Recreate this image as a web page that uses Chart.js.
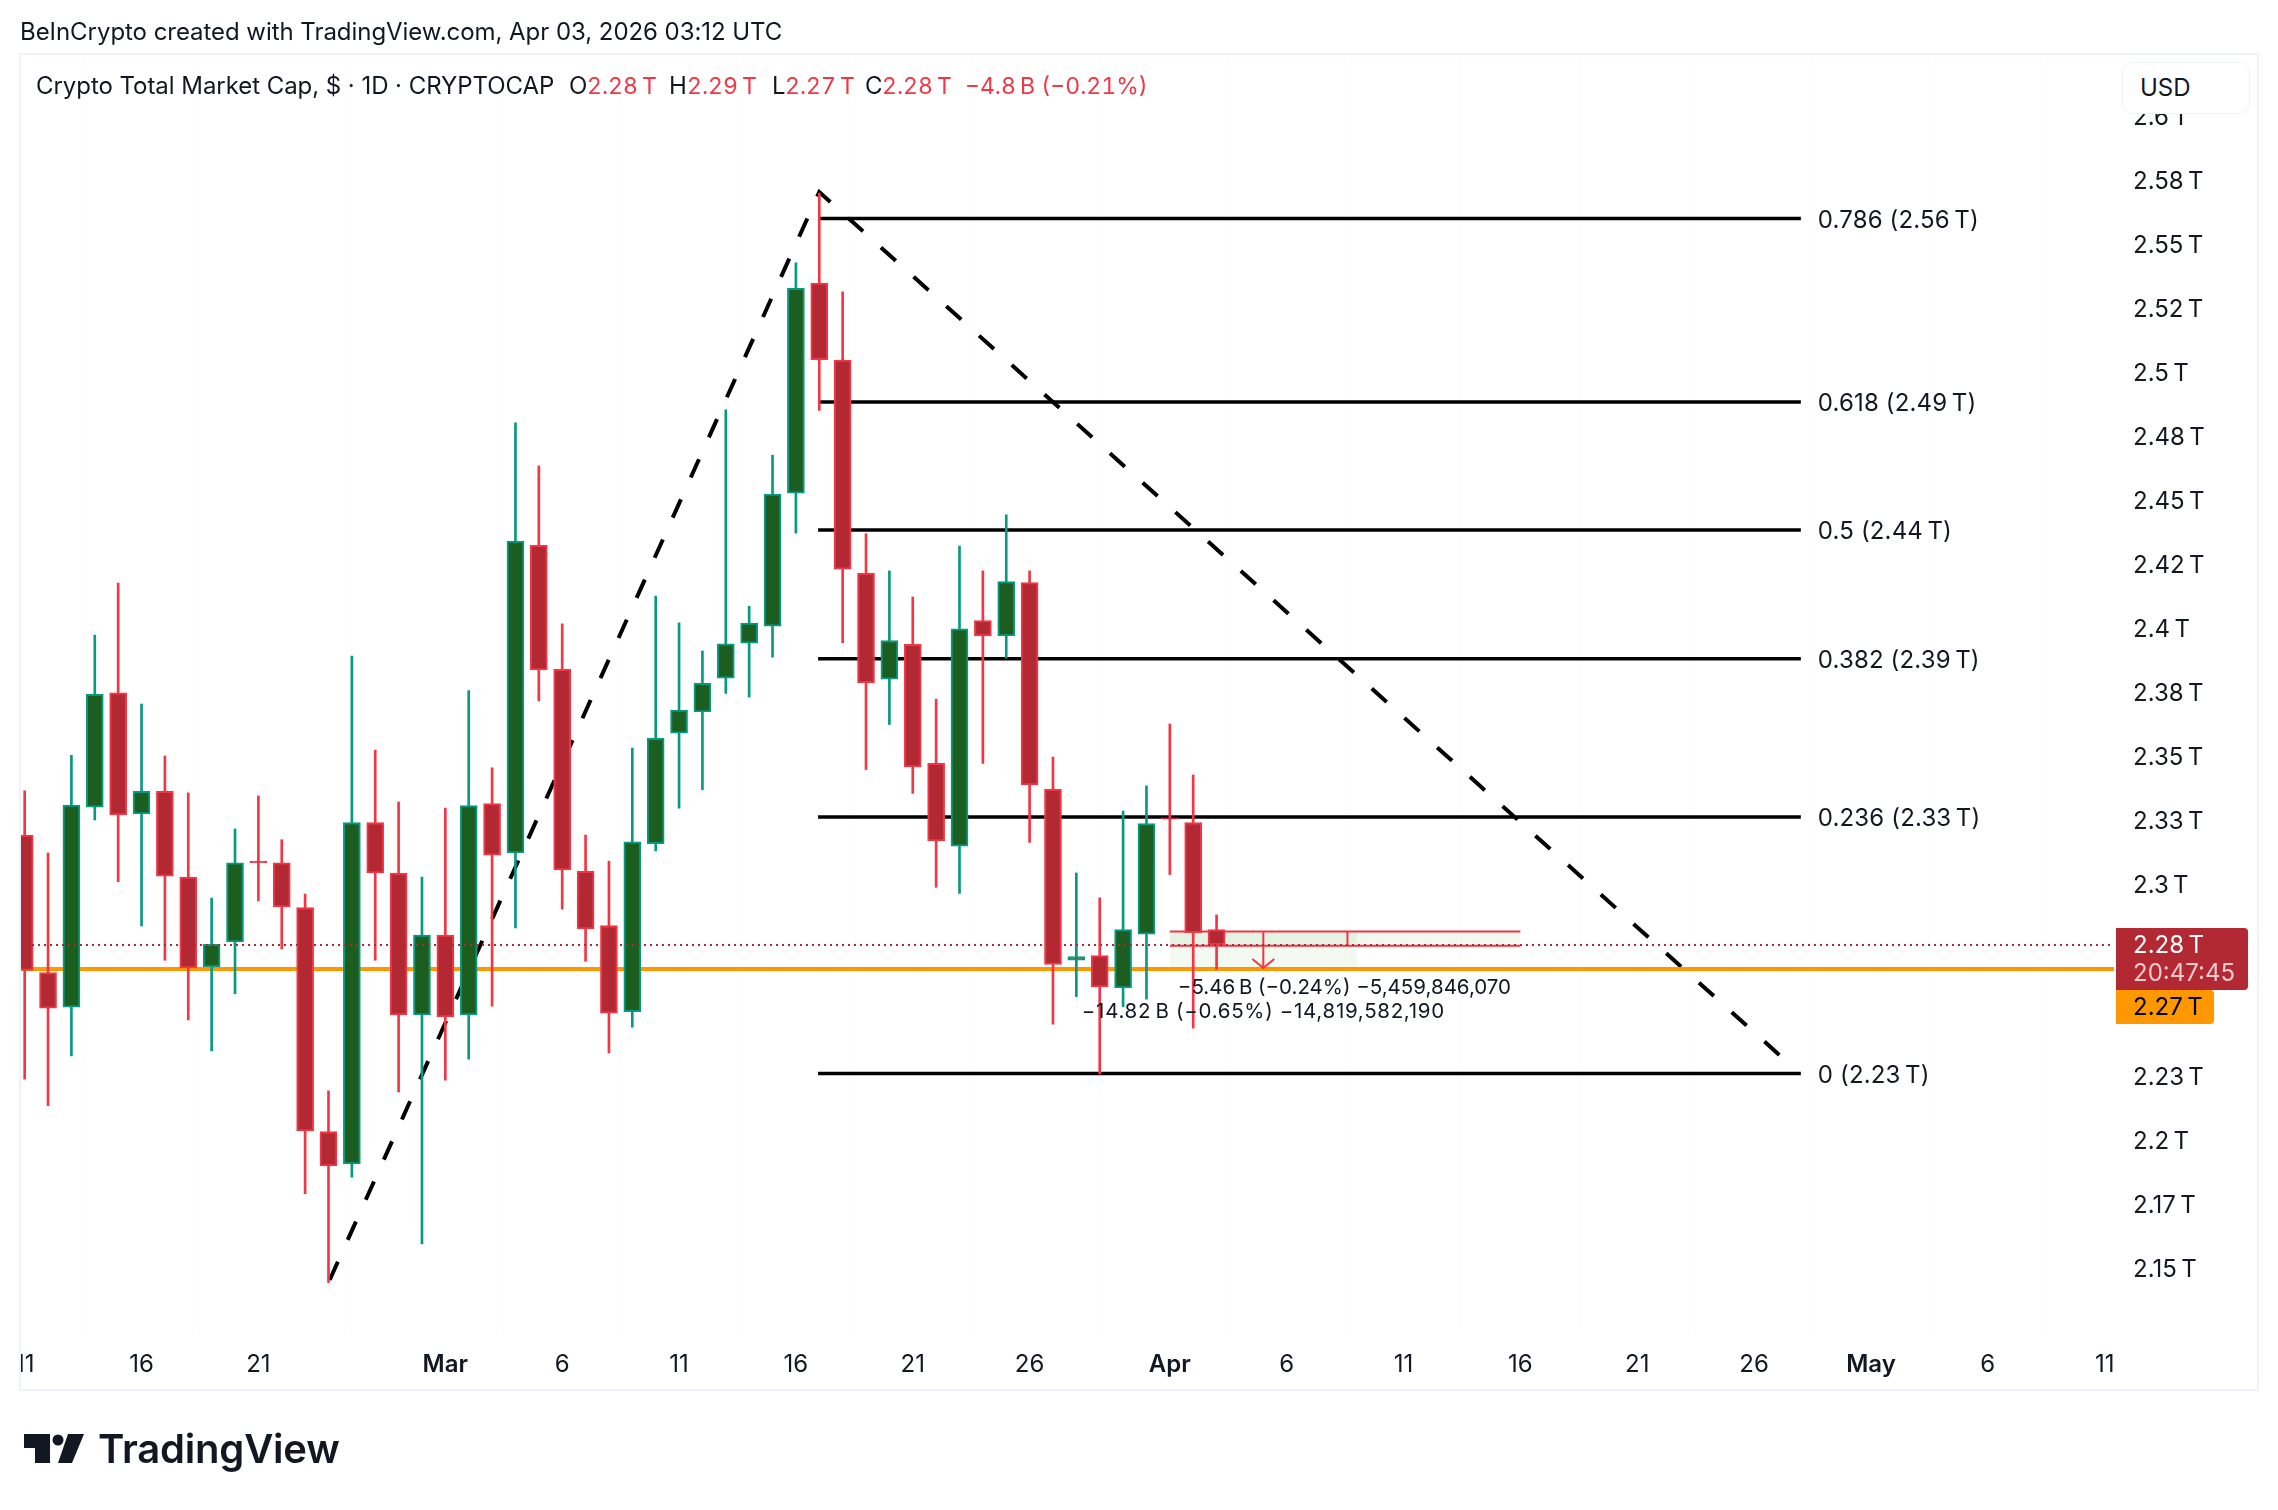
<!DOCTYPE html>
<html>
<head>
<meta charset="utf-8">
<script src="https://cdn.jsdelivr.net/npm/chart.js@4"></script>
<style>
  html, body { margin: 0; background: #fff; }
  body { position: relative; width: 2278px; height: 1510px; overflow: hidden; font-family: Inter, sans-serif; color: #131722; }
  canvas { position: absolute; left: 0; top: 0; }
  .txt { position: absolute; white-space: nowrap; font-size: 24px; line-height: 30px; }
  .red { color: #f23645; font-size: 23px; font-variant-numeric: tabular-nums; }
  #usd { position: absolute; left: 2122px; top: 62px; width: 128px; height: 52px; box-sizing: border-box; background: #fff; border: 1px solid #f0f3fa; border-radius: 10px; }
</style>
</head>
<body>
<canvas id="chart" width="2278" height="1510"></canvas>
<div class="txt" style="left:20px;top:17px;letter-spacing:-0.05px">BeInCrypto created with TradingView.com, Apr 03, 2026 03:12 UTC</div>
<div class="txt" style="left:36px;top:71px;letter-spacing:-0.05px">Crypto Total Market Cap, $ · 1D · CRYPTOCAP</div>
<div class="txt" style="left:569px;top:71px">O</div>
<div class="txt red" style="left:587px;top:71px">2.28&thinsp;T</div>
<div class="txt" style="left:669px;top:71px">H</div>
<div class="txt red" style="left:687px;top:71px">2.29&thinsp;T</div>
<div class="txt" style="left:772px;top:71px">L</div>
<div class="txt red" style="left:785px;top:71px">2.27&thinsp;T</div>
<div class="txt" style="left:865px;top:71px">C</div>
<div class="txt red" style="left:882px;top:71px">2.28&thinsp;T</div>
<div class="txt red" style="left:965px;top:71px">−4.8&thinsp;B (−0.21%)</div>
<div id="usd"></div>
<div class="txt" style="left:2140px;top:73px">USD</div>
<svg style="position:absolute;left:0;top:1420px" width="100" height="60">
  <path d="M24 14H50V43H35V28H24Z M68 14H84L72 43H58Z" fill="#131722"/>
  <circle cx="58" cy="20" r="5.5" fill="#131722"/>
</svg>
<div class="txt" style="left:98px;top:1425px;font-size:40px;line-height:48px;font-weight:600;letter-spacing:-0.2px;color:#131722">TradingView</div>
<script>
const days = [];
const opens = [2.3191, 2.2654, 2.2519, 2.33, 2.3747, 2.3274, 2.3362, 2.3027, 2.2676, 2.2774, 2.3089, 2.3083, 2.2908, 2.2033, 2.1907, 2.324, 2.3043, 2.2489, 2.28, 2.2489, 2.3314, 2.3121, 2.4323, 2.3838, 2.3049, 2.2838, 2.2501, 2.3157, 2.3589, 2.3672, 2.3804, 2.3941, 2.4007, 2.4527, 2.5347, 2.5046, 2.4213, 2.38, 2.3936, 2.3471, 2.3148, 2.4029, 2.3969, 2.4177, 2.337, 2.2702, 2.272, 2.2594, 2.2804, 2.3258, 2.324, 2.2822];
const highs = [2.3364, 2.3121, 2.3503, 2.3972, 2.4175, 2.3703, 2.35, 2.3356, 2.2945, 2.3215, 2.3344, 2.3173, 2.2961, 2.2192, 2.389, 2.3523, 2.332, 2.3027, 2.3296, 2.3755, 2.3454, 2.4801, 2.4633, 2.4016, 2.3191, 2.3089, 2.3531, 2.4125, 2.402, 2.391, 2.4852, 2.4085, 2.4675, 2.5426, 2.5699, 2.5313, 2.4368, 2.4223, 2.4121, 2.3722, 2.432, 2.4223, 2.4442, 2.4223, 2.3496, 2.3043, 2.2946, 2.3285, 2.3383, 2.3625, 2.3426, 2.2879];
const lows = [2.2238, 2.2134, 2.2328, 2.325, 2.3009, 2.2836, 2.2702, 2.2469, 2.2348, 2.2571, 2.2934, 2.2746, 2.179, 2.1443, 2.1855, 2.2702, 2.2188, 2.1594, 2.2234, 2.2316, 2.2523, 2.2828, 2.3715, 2.2902, 2.2698, 2.234, 2.2441, 2.3129, 2.3296, 2.3368, 2.3744, 2.373, 2.3886, 2.437, 2.485, 2.3943, 2.3447, 2.3623, 2.3354, 2.2987, 2.2963, 2.3471, 2.3882, 2.3162, 2.2452, 2.256, 2.2258, 2.2521, 2.255, 2.3037, 2.2437, 2.2667];
const closes = [2.2662, 2.2515, 2.3308, 2.3741, 2.327, 2.3362, 2.3031, 2.2672, 2.2764, 2.3083, 2.3083, 2.291, 2.2035, 2.1899, 2.324, 2.3043, 2.2489, 2.28, 2.2481, 2.3306, 2.3113, 2.4339, 2.3836, 2.3055, 2.2824, 2.2495, 2.3165, 2.3569, 2.3679, 2.3784, 2.3938, 2.4019, 2.4523, 2.5327, 2.5048, 2.423, 2.3786, 2.3951, 2.3457, 2.3168, 2.3997, 2.3969, 2.4181, 2.3387, 2.2686, 2.2716, 2.2598, 2.2822, 2.3236, 2.3253, 2.281, 2.2763];
opens.forEach((v, i) => days.push(i));

const xTickDays = [0, 5, 10, 18, 23, 28, 33, 38, 43, 49, 54, 59, 64, 69, 74, 79, 84, 89];
const xTickLabels = ['11', '16', '21', 'Mar', '6', '11', '16', '21', '26', 'Apr', '6', '11', '16', '21', '26', 'May', '6', '11'];
const yTickValues = [2.6, 2.575, 2.55, 2.525, 2.5, 2.475, 2.45, 2.425, 2.4, 2.375, 2.35, 2.325, 2.3, 2.275, 2.25, 2.225, 2.2, 2.175, 2.15];
const yTickLabels = ['2.6\u2009T', '2.58\u2009T', '2.55\u2009T', '2.52\u2009T', '2.5\u2009T', '2.48\u2009T', '2.45\u2009T', '2.42\u2009T', '2.4\u2009T', '2.38\u2009T', '2.35\u2009T', '2.33\u2009T', '2.3\u2009T', '2.28\u2009T', '2.25\u2009T', '2.23\u2009T', '2.2\u2009T', '2.17\u2009T', '2.15\u2009T'];

const fibValues = [2.5599, 2.4883, 2.4383, 2.388, 2.3262, 2.226];
const fibLabels = ['0.786 (2.56\u2009T)', '0.618 (2.49\u2009T)', '0.5 (2.44\u2009T)', '0.382 (2.39\u2009T)', '0.236 (2.33\u2009T)', '0 (2.23\u2009T)'];
const fibStart = 33.95;
const fibEnd = 76;

const trendDays = [13.05, 34, 75.46];
const trendValues = [2.1453, 2.5703, 2.2301];

const lastPrice = 2.2762;
const supportPrice = 2.2668;
const xMin = -0.2;
const xMax = 89.4;

const measureDays = [49, 53, 56.6, 57, 64];
const measureValues = [2.2814, 2.2759, 2.2672];

const UP = '#089981';
const UP_BODY = '#1b5e20';
const DOWN = '#f23645';
const DOWN_BODY = '#b22833';
const FONT = 'Inter, sans-serif';
const INK = '#131722';

function isUp(i) {
  return closes[i] >= opens[i];
}

function line(points, color, width, order, extra) {
  return Object.assign({
    type: 'line',
    data: points.map(p => ({ x: p[0], y: p[1] })),
    borderColor: color,
    borderWidth: width,
    pointRadius: 0,
    tension: 0,
    fill: false,
    order,
  }, extra || {});
}

const overlayPlugin = {
  id: 'overlay',
  afterDraw(chart) {
    const ctx = chart.ctx;
    const x = chart.scales.x;
    const y = chart.scales.y;
    ctx.save();

    // first date label is cut by the pane edge
    ctx.fillStyle = '#fff';
    ctx.fillRect(0, 1340, 21, 46);
    ctx.strokeStyle = '#f0f3fa';
    ctx.lineWidth = 2;
    ctx.strokeRect(20, 54, 2238, 1336);

    ctx.textBaseline = 'middle';
    ctx.textAlign = 'left';
    ctx.font = '24px ' + FONT;
    ctx.fillStyle = INK;
    ctx.letterSpacing = '0.15px';
    const labelX = x.getPixelForValue(fibEnd) + 17;
    fibLabels.forEach((label, i) => {
      ctx.fillText(label, labelX, y.getPixelForValue(fibValues[i]) + 2);
    });

    ctx.font = '20.5px ' + FONT;
    ctx.letterSpacing = '0px';
    const measureX = x.getPixelForValue(49);
    ctx.fillText('−5.46\u2009B (−0.24%) −5,459,846,070', measureX + 8, y.getPixelForValue(measureValues[2]) + 20);
    ctx.letterSpacing = '0.7px';
    ctx.fillText('−14.82\u2009B (−0.65%) −14,819,582,190', measureX - 88, y.getPixelForValue(measureValues[2]) + 44);
    ctx.letterSpacing = '0px';

    // price tags on the axis
    const tagLeft = x.right + 2;
    const lastY = y.getPixelForValue(lastPrice);
    ctx.fillStyle = DOWN_BODY;
    ctx.beginPath();
    ctx.roundRect(tagLeft, lastY - 17, 132, 62, [0, 4, 4, 0]);
    ctx.fill();
    ctx.font = '24px ' + FONT;
    ctx.fillStyle = '#fff';
    ctx.fillText('2.28\u2009T', tagLeft + 17, lastY + 1);
    ctx.fillStyle = 'rgba(255,255,255,0.75)';
    ctx.fillText('20:47:45', tagLeft + 17, lastY + 29);

    const supportY = y.getPixelForValue(supportPrice);
    ctx.fillStyle = '#ff9800';
    ctx.beginPath();
    ctx.roundRect(tagLeft, supportY + 21, 98, 34, [0, 4, 4, 0]);
    ctx.fill();
    ctx.fillStyle = '#000';
    ctx.fillText('2.27\u2009T', tagLeft + 17, supportY + 39);
    ctx.restore();
  },
};

function renderCandles(canvas) {
  const bandColor = 'rgba(76,175,80,0.08)';
  const datasets = [];

  fibValues.forEach(v => {
    datasets.push(line([[fibStart, v], [fibEnd, v]], '#000', 3.5, 20));
  });
  datasets.push(line(trendDays.map((d, i) => [d, trendValues[i]]), '#000', 4, 20, { borderDash: [20, 24] }));
  datasets.push(line([[xMin, supportPrice], [xMax, supportPrice]], '#ff9800', 4, 19));

  datasets.push(line([[measureDays[0], measureValues[0]], [measureDays[4], measureValues[0]]], DOWN, 2, 18, {
    fill: { value: measureValues[1] },
    backgroundColor: bandColor,
  }));
  datasets.push(line([[measureDays[0], measureValues[0]], [measureDays[3], measureValues[0]]], 'transparent', 0, 18, {
    fill: { value: measureValues[2] },
    backgroundColor: bandColor,
  }));
  datasets.push(line([[measureDays[0], measureValues[1]], [measureDays[4], measureValues[1]]], DOWN, 2, 17));
  datasets.push(line([[measureDays[1], measureValues[0]], [measureDays[1], measureValues[2]]], DOWN, 2, 17));
  datasets.push(line([[measureDays[1] - 0.47, measureValues[2] + 0.0035], [measureDays[1], measureValues[2]], [measureDays[1] + 0.47, measureValues[2] + 0.0035]], DOWN, 2, 17));
  datasets.push(line([[measureDays[2], measureValues[0]], [measureDays[2], measureValues[1]]], DOWN, 2, 17));

  datasets.push({
    type: 'bar',
    data: days.map((d, i) => ({ x: d, y: [lows[i], highs[i]] })),
    backgroundColor: days.map((d, i) => (isUp(i) ? UP : DOWN)),
    barThickness: 2,
    grouped: false,
    order: 6,
  });
  datasets.push({
    type: 'bar',
    data: days.map((d, i) => ({ x: d, y: [opens[i], closes[i]] })),
    backgroundColor: days.map((d, i) => (isUp(i) ? UP_BODY : DOWN_BODY)),
    borderColor: days.map((d, i) => (isUp(i) ? UP : DOWN)),
    borderWidth: 2,
    borderSkipped: false,
    barThickness: 17,
    grouped: false,
    order: 5,
  });
  datasets.push(line([[xMin, lastPrice], [xMax, lastPrice]], DOWN_BODY, 2, 1, { borderDash: [2, 4] }));

  return new Chart(canvas.getContext('2d'), {
    type: 'bar',
    data: { datasets },
    plugins: [overlayPlugin],
    options: {
      responsive: false,
      devicePixelRatio: 1,
      animation: false,
      layout: { padding: { left: 20, top: 54, right: 0, bottom: 0 } },
      plugins: { legend: { display: false }, tooltip: { enabled: false } },
      scales: {
        x: {
          type: 'linear',
          min: xMin,
          max: xMax,
          offset: false,
          afterFit(scale) {
            scale.height = 178;
            scale.paddingLeft = 0;
            scale.paddingRight = 0;
          },
          afterBuildTicks(scale) { scale.ticks = xTickDays.map(value => ({ value })); },
          border: { display: false },
          grid: { color: 'rgba(42,46,57,0.02)', drawTicks: false },
          ticks: {
            autoSkip: false,
            maxRotation: 0,
            padding: 18,
            color: INK,
            callback: (value, index) => xTickLabels[index],
            font: ctx => ({
              family: FONT,
              size: 24,
              weight: /[a-z]/.test(xTickLabels[ctx.index] || '') ? '600' : '400',
            }),
          },
        },
        y: {
          position: 'right',
          min: 2.125,
          max: 2.6242,
          afterFit(scale) {
            scale.width = 164;
            scale.paddingTop = 0;
            scale.paddingBottom = 0;
          },
          afterBuildTicks(scale) { scale.ticks = yTickValues.map(value => ({ value })); },
          border: { display: false },
          grid: { display: false, drawTicks: false },
          ticks: {
            autoSkip: false,
            padding: 19,
            labelOffset: 1.5,
            color: INK,
            callback: (value, index) => yTickLabels[index],
            font: { family: FONT, size: 24 },
          },
        },
      },
    },
  });
}

renderCandles(document.getElementById('chart'));
</script>
</body>
</html>
